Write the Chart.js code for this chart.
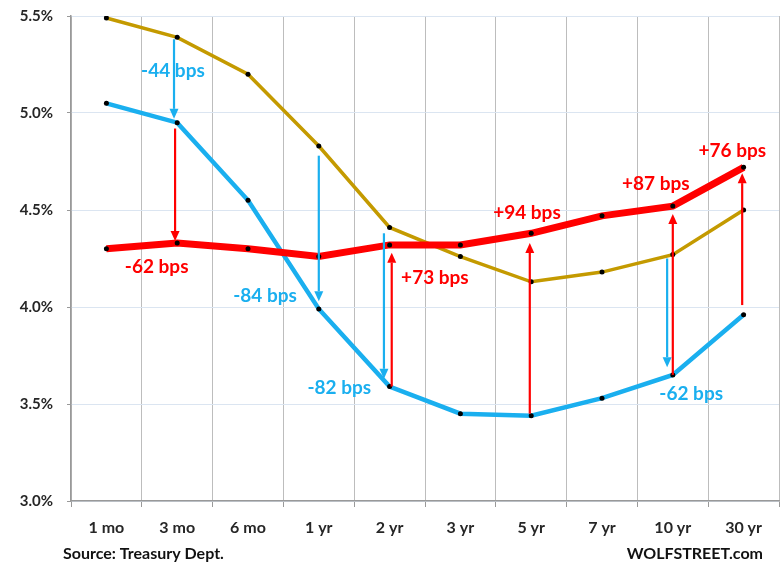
<!DOCTYPE html>
<html><head><meta charset="utf-8">
<script src="https://cdn.jsdelivr.net/npm/chart.js@4.4.0/dist/chart.umd.min.js"></script>
<style>html,body{margin:0;padding:0;background:#fff}#wrap{width:782px;height:566px;position:relative}</style>
</head><body><div id="wrap"><canvas id="c"></canvas></div>
<script>
// ---- data ----
const categories = ['1 mo','3 mo','6 mo','1 yr','2 yr','3 yr','5 yr','7 yr','10 yr','30 yr'];
const curveOld = [5.49, 5.39, 5.20, 4.83, 4.41, 4.26, 4.13, 4.18, 4.27, 4.50];
const curveMid = [5.05, 4.95, 4.55, 3.99, 3.59, 3.45, 3.44, 3.53, 3.65, 3.96];
const curveNew = [4.30, 4.33, 4.30, 4.26, 4.32, 4.32, 4.38, 4.47, 4.52, 4.72];
const yTickValues = [3.0, 3.5, 4.0, 4.5, 5.0, 5.5];

// arrows: category position (fractional index), start value, end value, series key
const arrowCat   = [0.955, 0.97, 3.0, 3.92, 4.03, 5.98, 7.92, 8.0, 8.98];
const arrowFrom  = [5.38, 4.92, 4.78, 4.38, 3.59, 3.45, 4.25, 3.65, 4.01];
const arrowTo    = [4.97, 4.34, 4.03, 3.63, 4.28, 4.33, 3.69, 4.48, 4.69];
const arrowKind  = ['mid','new','mid','mid','new','new','mid','new','new'];

// change labels
const labelText = ['-44 bps','-62 bps','-84 bps','-82 bps','+73 bps','+94 bps','-62 bps','+87 bps','+76 bps'];
const labelCat  = [0.94, 0.71, 2.24, 3.29, 4.64, 5.94, 8.26, 7.76, 8.84];
const labelVal  = [5.216, 4.206, 4.057, 3.582, 4.149, 4.485, 3.552, 4.634, 4.804];
const labelKind = ['mid','new','mid','mid','new','new','mid','new','new'];

const sourceText = 'Source: Treasury Dept.';
const siteText = 'WOLFSTREET.com';

// ---- styles ----
const colors = { old: '#C49A00', mid: '#1AAFEF', new: '#FF0000' };
const FONT = 'Lato, "Open Sans", sans-serif';

const annotPlugin = {
  id: 'annot',
  afterDatasetsDraw(chart) {
    const ctx = chart.ctx, xs = chart.scales.x, ys = chart.scales.y;
    ctx.save();
    for (let i = 0; i < arrowCat.length; i++) {
      const x = xs.getPixelForValue(arrowCat[i]);
      const y1 = ys.getPixelForValue(arrowFrom[i]);
      const y2 = ys.getPixelForValue(arrowTo[i]);
      const dir = y2 > y1 ? 1 : -1;
      const head = 10, hw = 4.5;
      ctx.strokeStyle = colors[arrowKind[i]];
      ctx.fillStyle = colors[arrowKind[i]];
      ctx.lineWidth = 2.2;
      ctx.beginPath();
      ctx.moveTo(x, y1);
      ctx.lineTo(x, y2 - dir * head);
      ctx.stroke();
      ctx.beginPath();
      ctx.moveTo(x, y2);
      ctx.lineTo(x - hw, y2 - dir * head);
      ctx.lineTo(x + hw, y2 - dir * head);
      ctx.closePath();
      ctx.fill();
    }
    ctx.font = 'bold 19px ' + FONT;
    ctx.textAlign = 'center';
    ctx.textBaseline = 'middle';
    for (let i = 0; i < labelText.length; i++) {
      ctx.fillStyle = colors[labelKind[i]];
      ctx.fillText(labelText[i], xs.getPixelForValue(labelCat[i]), ys.getPixelForValue(labelVal[i]));
    }
    ctx.restore();
  },
  afterDraw(chart) {
    const ctx = chart.ctx;
    ctx.save();
    ctx.font = 'bold 16px ' + FONT;
    ctx.fillStyle = '#111';
    ctx.textBaseline = 'middle';
    ctx.textAlign = 'left';
    ctx.fillText(sourceText, 63, 554);
    ctx.textAlign = 'right';
    ctx.fillText(siteText, 763, 554);
    ctx.restore();
  }
};

function ds(data, color, width) {
  return {
    data, borderColor: color, borderWidth: width, fill: false, tension: 0,
    pointRadius: 2.5, pointHoverRadius: 2.5, pointBackgroundColor: '#000', pointBorderWidth: 0
  };
}

new Chart(document.getElementById('c'), {
  type: 'line',
  data: {
    labels: categories,
    datasets: [ds(curveNew, colors.new, 7), ds(curveMid, colors.mid, 4.5), ds(curveOld, colors.old, 3.5)]
  },
  options: {
    responsive: true, maintainAspectRatio: false, animation: false,
    devicePixelRatio: 1,
    layout: { padding: { top: 16, right: 3, left: 0, bottom: 0 } },
    plugins: { legend: { display: false }, tooltip: { enabled: false } },
    scales: {
      x: {
        type: 'category', offset: true,
        grid: { offset: true, color: '#bdbdbd', lineWidth: 1, tickLength: 6, tickColor: '#999' },
        border: { color: '#999', width: 1.5 },
        ticks: { color: '#262626', font: { family: FONT, weight: 'bold', size: 16 }, padding: 11, maxRotation: 0 },
        afterFit(s) { s.height = 65; s.paddingLeft = 0; s.paddingRight = 0; }
      },
      y: {
        min: 3, max: 5.5,
        afterBuildTicks(s) { s.ticks = yTickValues.map(v => ({ value: v })); },
        grid: { color: '#dbe5f1', lineWidth: 1, tickLength: 4, tickColor: '#999' },
        border: { color: '#999', width: 1.5 },
        ticks: { color: '#262626', font: { family: FONT, weight: 'bold', size: 15 }, padding: 14,
                 callback: v => v.toFixed(1) + '%' },
        afterFit(s) { s.width = 71; s.paddingTop = 0; s.paddingBottom = 0; }
      }
    }
  },
  plugins: [annotPlugin]
});
</script>
</body></html>
